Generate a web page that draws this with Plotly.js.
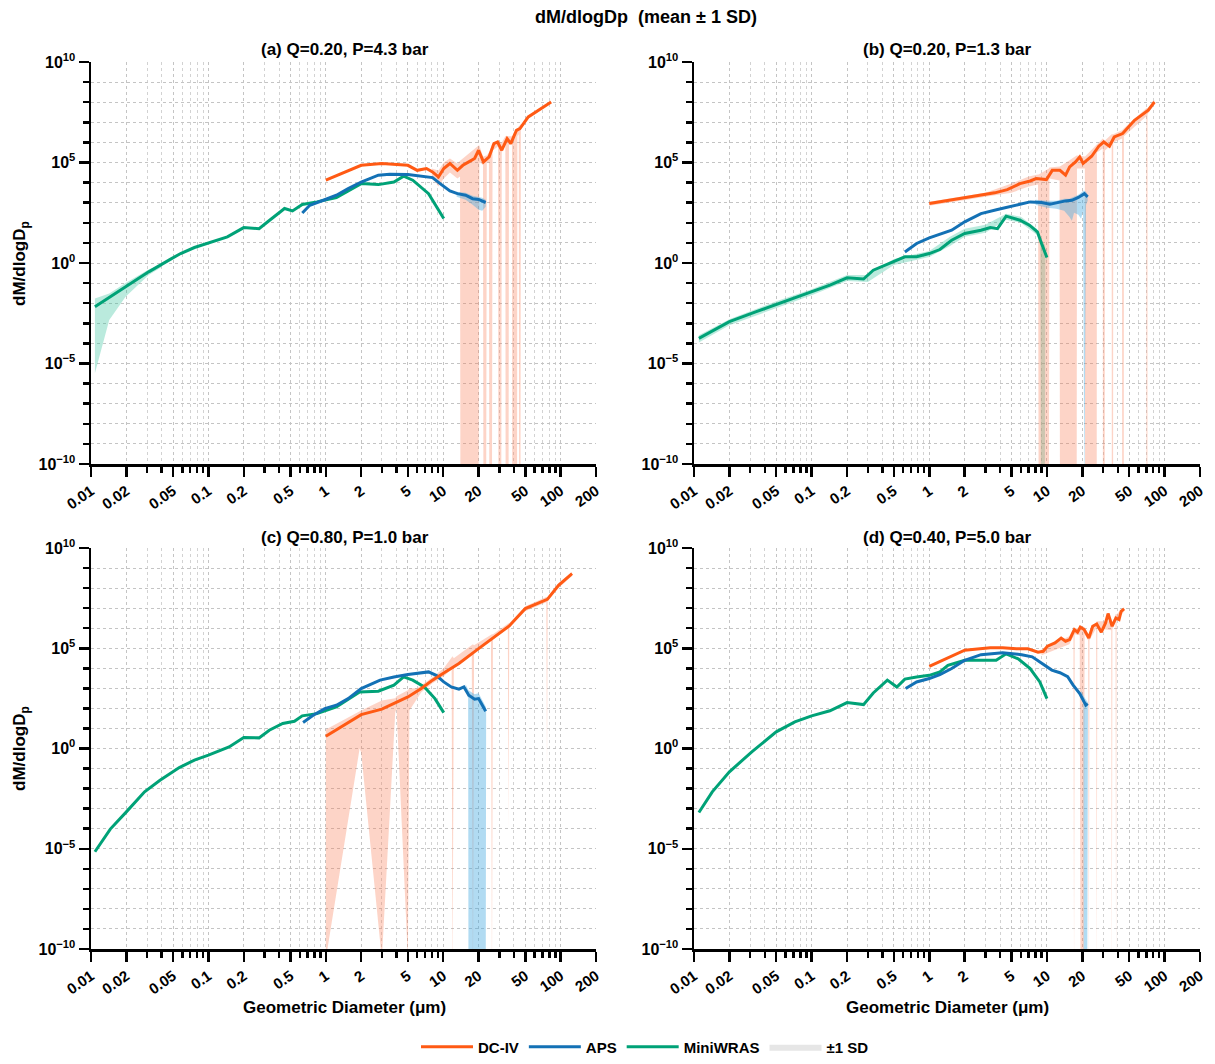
<!DOCTYPE html>
<html><head><meta charset="utf-8">
<script src="https://cdn.plot.ly/plotly-3.0.1.min.js"></script>
<style>html,body{margin:0;padding:0;background:#fff}#chart{width:1215px;height:1064px}</style>
</head><body><div id="chart"></div>
<script>
// Diameters in µm; dM/dlogDp values are given as log10 exponents (e.g. 4.12 means 10^4.12)
// ---------- Panel (a) Q=0.20, P=4.3 bar ----------
const aMiniD = [0.0108,0.0197,0.031,0.0485,0.058,0.076,0.145,0.2,0.27,0.32,0.445,0.52,0.63,0.84,1.23,2.0,2.8,3.8,4.6,5.5,7.5,10.1];
const aMiniE = [-2.18,-1.18,-0.44,0.22,0.47,0.77,1.30,1.76,1.71,2.05,2.71,2.59,2.91,3.04,3.26,3.95,3.90,4.03,4.32,4.12,3.45,2.21];
const aMiniBandD = [0.0108,0.0143,0.0197,0.031,0.04];
const aMiniBandLo = [-5.49,-2.84,-1.68,-0.6,-0.2];
const aMiniBandHi = [-1.76,-1.52,-0.99,-0.32,-0.05];
const aApsD = [0.63,0.73,0.99,1.23,1.55,2.0,2.8,3.5,5.0,6.5,8.1,9.4,11.4,13.2,15.5,17.8,20,23];
const aApsE = [2.49,2.87,3.16,3.37,3.70,4.03,4.37,4.42,4.40,4.32,4.25,3.95,3.59,3.45,3.37,3.20,3.16,3.01];
const aApsBandD = [13,15.5,17.8,20,21.5,23];
const aApsBandLo = [3.3,3.15,2.9,2.65,2.6,2.8];
const aApsBandHi = [3.55,3.5,3.35,3.3,3.25,3.15];
const aDcD = [1.0,2.0,3.0,5.0,6.0,7.2,8.1,9.1,10.1,11.4,13.2,14.7,16.5,18.5,20,22,24.6,27,29,31.5,35,37.6,42,45,53,83];
const aDcE = [4.12,4.86,4.95,4.86,4.61,4.70,4.53,4.28,4.70,4.95,4.61,4.86,5.03,5.2,5.61,5.03,5.28,5.94,6.02,5.61,6.19,5.94,6.60,6.69,7.27,8.01];
const aDcBandD = [8.0,9.1,10.1,11.4,13.2,13.9,14.0,20.0,20.3,21.8,22.0,23.2,23.5,24.5,24.7,26.0,26.3,29.3,29.5,31.2,31.5,33.8,34.0,36.0,36.3,38.5,38.7,42.5,42.8,44.0,44.3,45.5,45.8];
const aDcBandLo = [4.3,3.8,4.2,4.5,4.2,4.3,-12,-12,5.0,4.9,-12,-12,5.0,5.0,-12,-12,5.6,5.8,-12,-12,5.5,5.9,-12,-12,5.9,5.9,-12,-12,6.3,6.4,-12,-12,6.6];
const aDcBandHi = [4.7,4.6,5.0,5.2,4.95,5.1,5.1,5.85,5.85,5.3,5.3,5.35,5.35,5.5,5.5,5.9,5.9,6.1,6.1,6.0,6.0,6.3,6.3,6.3,6.3,6.3,6.3,6.7,6.7,6.8,6.8,6.9,6.9];

// ---------- Panel (b) Q=0.20, P=1.3 bar ----------
const bMiniD = [0.011,0.0143,0.02,0.0334,0.05,0.1,0.143,0.2,0.276,0.334,0.44,0.53,0.62,0.78,1.0,1.23,1.55,2.0,2.75,3.3,3.8,4.5,5.9,7.1,8.3,9.0,10];
const bMiniE = [-3.75,-3.37,-2.92,-2.43,-2.06,-1.43,-1.10,-0.74,-0.80,-0.36,-0.06,0.11,0.31,0.31,0.47,0.67,1.13,1.47,1.63,1.76,1.71,2.33,2.13,1.88,1.55,0.97,0.27];
const bMiniBandD = [0.011,0.02,0.05,0.1,0.2,0.3,0.5,1.0,1.5,2.0,3.0,4.5,6,8.2,8.8,8.9,9.6,9.7,10];
const bMiniBandLo = [-3.95,-3.1,-2.25,-1.6,-0.9,-0.95,-0.1,0.3,0.85,1.3,1.5,2.15,2.0,1.4,0.9,-12,-12,0.3,0.1];
const bMiniBandHi = [-3.6,-2.8,-1.9,-1.3,-0.6,-0.6,0.2,0.6,1.3,1.7,1.9,2.45,2.3,1.7,1.3,1.2,0.9,0.7,0.4];
const bApsD = [0.62,0.78,1.0,1.23,1.55,2.0,2.75,3.8,5.0,5.9,7.2,9.0,10.6,12.3,14.4,16.3,18.5,20.8,22.2];
const bApsE = [0.55,0.97,1.25,1.42,1.63,2.05,2.46,2.66,2.84,2.92,3.04,3.01,2.92,3.01,3.09,3.12,3.26,3.45,3.29];
const bApsBandD = [8,10,12,14,15.5,16.3,17,18.5,19.5,20.3,20.8,21.5,22.2];
const bApsBandLo = [2.9,2.75,2.7,2.6,2.3,2.1,2.5,2.4,2.2,2.6,-12,2.9,3.1];
const bApsBandHi = [3.15,3.1,3.1,3.2,3.2,3.25,3.3,3.4,3.5,3.6,3.6,3.55,3.4];
const bDcD = [1.0,2.0,3.6,4.6,5.9,7.2,8.1,9.9,11.1,12.9,14.4,15.6,17.5,19,20.3,24,27.6,30.4,34,37.3,44,55.5,72.7,82];
const bDcE = [2.96,3.26,3.49,3.65,3.95,4.08,4.20,4.15,4.61,4.61,4.37,4.78,5.03,5.28,4.95,5.31,5.81,6.02,5.81,6.27,6.44,7.10,7.60,8.01];
const bDcBandD = [1.0,3.0,5.0,7.0,8.4,8.5,10.4,10.5,12.8,12.9,17.9,18.0,21.0,21.1,26.5,26.6,29.8,29.9,31.0,31.1,35.5,35.6,36.5,36.6,43.5,43.6,45,45.1,70,70.1,71.5,71.6,82];
const bDcBandLo = [2.85,3.3,3.5,3.8,3.9,-12,-12,4.2,4.1,-12,-12,4.7,4.7,-12,-12,5.5,5.7,-12,-12,5.6,5.9,-12,-12,6.0,6.2,-12,-12,6.3,7.3,-12,-12,7.4,7.9];
const bDcBandHi = [3.05,3.5,3.95,4.3,4.4,4.4,4.7,4.75,4.8,4.8,5.35,5.35,5.3,5.3,5.9,5.9,6.2,6.2,6.1,6.1,6.4,6.4,6.4,6.4,6.6,6.6,6.7,6.7,7.7,7.7,7.7,7.7,8.1];

// ---------- Panel (c) Q=0.80, P=1.0 bar ----------
const cMiniD = [0.0108,0.0146,0.02,0.0286,0.0387,0.0565,0.076,0.1,0.15,0.2,0.27,0.33,0.43,0.54,0.63,0.84,1.23,1.94,2.8,3.8,4.6,5.5,6.9,8.5,10.1];
const cMiniE = [-5.15,-4.02,-3.16,-2.16,-1.58,-0.95,-0.58,-0.33,0.08,0.55,0.53,0.91,1.25,1.36,1.63,1.74,2.08,2.82,2.86,3.16,3.57,3.41,3.07,2.49,1.79];
const cApsD = [0.64,0.78,0.98,1.23,1.55,2.0,2.9,3.8,5.0,6.5,7.5,8.7,10.1,11.7,13.6,15.0,16.5,18.5,20.0,23];
const cApsE = [1.30,1.66,1.99,2.16,2.49,2.99,3.41,3.57,3.69,3.77,3.82,3.65,3.32,3.07,2.96,3.07,2.66,2.46,2.49,1.86];
const cApsBandD = [15.5,16.3,16.4,18.5,20.0,23.0,23.2];
const cApsBandLo = [2.9,2.5,-12,-12,-12,-12,1.8];
const cApsBandHi = [3.2,2.9,2.9,2.7,2.75,2.1,2.0];
const cDcD = [1.0,2.0,3.0,3.8,5.0,6.5,8.1,10.1,13.6,20,27,36.5,50,77,96,125];
const cDcE = [0.61,1.69,1.96,2.24,2.57,2.99,3.41,3.77,4.24,4.98,5.56,6.11,6.98,7.44,8.14,8.72];
const cDcBandD = [1.0,1.94,2.0,3.0,3.9,4.0,5.0,5.15,6.0,6.5,8.1,10.1,11.8,12.0,12.3,17.5,17.9,18.3,25.5,26,26.5,35.5,36,36.5,50,75.5,76.5,77.5,96,125];
const cDcBandLo = [-10.5,0.0,-0.2,-10.5,1.8,2.0,-10.5,1.9,2.5,2.8,3.25,3.6,3.95,-12,4.0,4.75,-12,4.8,5.4,-12,5.45,6.0,-4,6.05,6.85,7.3,-1,7.35,8.0,8.6];
const cDcBandHi = [0.95,1.85,1.9,2.4,2.5,2.6,2.9,3.0,3.0,3.15,3.55,4.0,4.6,4.6,4.5,5.2,5.2,5.15,5.7,5.7,5.7,6.25,6.25,6.25,7.1,7.55,7.55,7.55,8.25,8.8];

// ---------- Panel (d) Q=0.40, P=5.0 bar ----------
const dMiniD = [0.011,0.0143,0.02,0.031,0.05,0.072,0.1,0.143,0.2,0.276,0.334,0.44,0.53,0.62,0.78,1.0,1.23,1.44,2.0,2.75,3.7,4.5,5.7,7.2,8.7,10];
const dMiniE = [-3.19,-2.16,-1.16,-0.17,0.83,1.33,1.63,1.88,2.29,2.19,2.77,3.41,3.07,3.46,3.57,3.65,3.82,4.15,4.40,4.40,4.40,4.72,4.47,3.99,3.32,2.49];
const dApsD = [0.63,0.78,1.0,1.23,1.55,2.0,2.75,3.3,4.2,5.1,6.1,7.5,9.1,11,12.9,15,16.7,19,21.4,22.2];
const dApsE = [2.99,3.32,3.49,3.69,3.99,4.40,4.68,4.73,4.78,4.73,4.68,4.57,4.24,3.91,3.78,3.58,3.16,2.74,2.16,2.24];
const dApsBandD = [19.5,20.4,20.5,22.0,22.3];
const dApsBandLo = [2.5,2.3,-12,-12,2.1];
const dApsBandHi = [2.9,2.6,2.6,2.35,2.3];
const dDcD = [1.0,1.33,2.0,3.3,4.2,5.5,6.9,8.4,9.3,10.1,11.7,13.2,14.4,15.6,17.1,18.2,19.2,20.7,22.7,24.5,26.5,29,31.5,33.1,35.8,38.6,41,42.7,45.3];
const dDcE = [4.10,4.44,4.90,5.02,5.03,4.97,4.97,4.80,4.85,5.10,5.27,5.51,5.35,5.43,5.93,5.80,6.05,5.93,5.51,6.10,6.21,5.80,6.26,6.73,6.10,6.51,6.43,6.84,6.96];
const dDcBandD = [9.0,15.5,16.8,17.0,17.2,19.0,19.3,20.6,20.9,22.4,22.7,23.0,26.2,26.5,26.8,35.2,35.6,36.0,38.3,38.7,39.1,45.3];
const dDcBandLo = [4.65,5.2,5.6,-12,5.7,5.65,-12,-12,5.7,5.4,-12,5.4,6.0,-12,6.0,5.9,-12,5.95,6.3,-12,6.35,6.85];
const dDcBandHi = [4.95,5.6,6.0,6.0,6.0,6.0,6.15,6.1,6.05,5.75,5.7,5.75,6.35,6.35,6.35,6.35,6.3,6.3,6.7,6.7,6.7,7.05];

// ---------- Axis tick labels ----------
const xTickVals = [0.01,0.02,0.05,0.1,0.2,0.5,1,2,5,10,20,50,100,200];
const xTickText = ['0.01','0.02','0.05','0.1','0.2','0.5','1','2','5','10','20','50','100','200'];
const xMinorVals = [0.03,0.04,0.06,0.07,0.08,0.09,0.3,0.4,0.6,0.7,0.8,0.9,3,4,6,7,8,9,30,40,60,70,80,90];
const yTickVals = [1e-10,1e-5,1,1e5,1e10];
const yTickText = ['10<sup>\u221210</sup>','10<sup>\u22125</sup>','10<sup>0</sup>','10<sup>5</sup>','10<sup>10</sup>'];
const yMinorVals = [1e-9,1e-8,1e-7,1e-6,1e-4,1e-3,1e-2,1e-1,1e1,1e2,1e3,1e4,1e6,1e7,1e8,1e9];
const panelTitles = ['(a) Q=0.20, P=4.3 bar','(b) Q=0.20, P=1.3 bar','(c) Q=0.80, P=1.0 bar','(d) Q=0.40, P=5.0 bar'];
const seriesNames = ['DC-IV','APS','MiniWRAS','\u00b11 SD'];

const COL = {dc:'#FF5A14', aps:'#1371B5', mini:'#00A277'};
const BAND = {dc:'rgba(250,125,85,0.33)', aps:'rgba(70,170,225,0.42)', mini:'rgba(40,190,150,0.32)'};
const exp10 = v => Math.pow(10, v);
const FONT = 'Liberation Sans, Arial, sans-serif';

function ax(i){ return i===1 ? '' : String(i); }
function lineTrace(d, e, color, name, i, rank){
  return {type:'scatter', mode:'lines', x:d, y:e.map(exp10), xaxis:'x'+ax(i), yaxis:'y'+ax(i),
    line:{color:color, width:3}, name:name, legendgroup:name, showlegend:i===1, legendrank:rank, hoverinfo:'skip'};
}
function bandTrace(d, lo, hi, color, i){
  return {type:'scatter', mode:'lines', x:d.concat(d.slice().reverse()),
    y:hi.map(exp10).concat(lo.map(exp10).reverse()), xaxis:'x'+ax(i), yaxis:'y'+ax(i),
    fill:'toself', fillcolor:color, line:{width:0, color:'rgba(0,0,0,0)'}, showlegend:false, hoverinfo:'skip'};
}

const traces = [
  bandTrace(aMiniBandD,aMiniBandLo,aMiniBandHi,BAND.mini,1),
  bandTrace(aDcBandD,aDcBandLo,aDcBandHi,BAND.dc,1),
  bandTrace(aApsBandD,aApsBandLo,aApsBandHi,BAND.aps,1),
  bandTrace(bMiniBandD,bMiniBandLo,bMiniBandHi,BAND.mini,2),
  bandTrace(bDcBandD,bDcBandLo,bDcBandHi,BAND.dc,2),
  bandTrace(bApsBandD,bApsBandLo,bApsBandHi,BAND.aps,2),
  bandTrace(cDcBandD,cDcBandLo,cDcBandHi,BAND.dc,3),
  bandTrace(cApsBandD,cApsBandLo,cApsBandHi,BAND.aps,3),
  bandTrace(dDcBandD,dDcBandLo,dDcBandHi,BAND.dc,4),
  bandTrace(dApsBandD,dApsBandLo,dApsBandHi,BAND.aps,4),
];
const panels = [[aMiniD,aMiniE,aApsD,aApsE,aDcD,aDcE],[bMiniD,bMiniE,bApsD,bApsE,bDcD,bDcE],
                [cMiniD,cMiniE,cApsD,cApsE,cDcD,cDcE],[dMiniD,dMiniE,dApsD,dApsE,dDcD,dDcE]];
panels.forEach((p, k) => {
  const i = k+1;
  traces.push(lineTrace(p[0],p[1],COL.mini,seriesNames[2],i,3));
  traces.push(lineTrace(p[2],p[3],COL.aps,seriesNames[1],i,2));
  traces.push(lineTrace(p[4],p[5],COL.dc,seriesNames[0],i,1));
});
// legend-only entry for the SD band
traces.push({type:'scatter', mode:'lines', x:[0.001,0.002,0.002], y:[1e-15,1e-15,2e-15], fill:'toself',
  fillcolor:'#e6e6e6', line:{width:0,color:'rgba(0,0,0,0)'}, name:seriesNames[3], showlegend:true, legendrank:4, hoverinfo:'skip'});

const W = 1215, H = 1064;
const xDom = [[91/W, 596/W],[694/W, 1200/W]];
const yDom = [[1-464/H, 1-62/H],[1-949/H, 1-548/H]];

function xAxis(i, dom, yname){
  return {type:'log', range:[-2, Math.log10(200)], domain:dom, anchor:yname,
    tickmode:'array', tickvals:xTickVals, ticktext:xTickText, tickangle:-35,
    ticks:'outside', ticklen:10, tickwidth:2.5, tickcolor:'#000',
    tickfont:{family:FONT, size:15, color:'#000', weight:'bold'},
    showline:true, linecolor:'#000', linewidth:2.5, mirror:false, zeroline:false,
    showgrid:true, gridcolor:'#c4c4c4', griddash:'dot', gridwidth:1,
    minor:{tickmode:'array', tickvals:xMinorVals, ticks:'outside', ticklen:6, tickwidth:2.5, tickcolor:'#000',
      showgrid:true, gridcolor:'#d2d2d2', griddash:'dot', gridwidth:1},
    automargin:false, fixedrange:true};
}
function yAxis(i, dom, xname){
  return {type:'log', range:[-10, 10], domain:dom, anchor:xname,
    tickmode:'array', tickvals:yTickVals, ticktext:yTickText,
    ticks:'outside', ticklen:10, tickwidth:2.5, tickcolor:'#000',
    tickfont:{family:FONT, size:16, color:'#000', weight:'bold'},
    showline:true, linecolor:'#000', linewidth:2.5, mirror:false, zeroline:false,
    showgrid:true, gridcolor:'#c4c4c4', griddash:'dot', gridwidth:1,
    minor:{tickmode:'array', tickvals:yMinorVals, ticks:'outside', ticklen:6, tickwidth:2.5, tickcolor:'#000',
      showgrid:true, gridcolor:'#c4c4c4', griddash:'dot', gridwidth:1},
    automargin:false, fixedrange:true};
}

function ann(text, px, py, size, angle){
  return {text:'<b>'+text+'</b>', x:px/W, y:1-py/H, xref:'paper', yref:'paper', xanchor:'center', yanchor:'middle',
    showarrow:false, textangle:angle||0, font:{family:FONT, size:size, color:'#000'}};
}

const layout = {
  width:W, height:H, margin:{l:0,r:0,t:0,b:0}, paper_bgcolor:'#fff', plot_bgcolor:'#fff',
  font:{family:FONT, color:'#000'},
  title:{text:'<b>dM/dlogDp\u00a0\u00a0(mean \u00b1\u00a01 SD)</b>', x:646/W, xanchor:'center', y:1-17/H, yanchor:'middle',
    font:{family:FONT, size:18, color:'#000'}},
  xaxis: xAxis(1, xDom[0], 'y'),  yaxis: yAxis(1, yDom[0], 'x'),
  xaxis2: xAxis(2, xDom[1], 'y2'), yaxis2: yAxis(2, yDom[0], 'x2'),
  xaxis3: xAxis(3, xDom[0], 'y3'), yaxis3: yAxis(3, yDom[1], 'x3'),
  xaxis4: xAxis(4, xDom[1], 'y4'), yaxis4: yAxis(4, yDom[1], 'x4'),
  showlegend:true,
  legend:{orientation:'h', x:645/W, xanchor:'center', y:1-1047/H, yanchor:'middle',
    font:{family:FONT, size:15, color:'#000', weight:'bold'}, itemwidth:52, traceorder:'normal',
    bgcolor:'rgba(0,0,0,0)'},
  annotations:[
    ann(panelTitles[0], 345, 50, 17), ann(panelTitles[1], 947, 50, 17),
    ann(panelTitles[2], 345, 537, 17), ann(panelTitles[3], 947, 537, 17),
    ann('dM/dlogD<sub>p</sub>', 21, 263, 17, -90), ann('dM/dlogD<sub>p</sub>', 21, 748, 17, -90),
    ann('Geometric Diameter (\u03bcm)', 344, 1007, 17), ann('Geometric Diameter (\u03bcm)', 947, 1007, 17)
  ]
};
Plotly.newPlot('chart', traces, layout, {staticPlot:true, displayModeBar:false});
</script></body></html>
